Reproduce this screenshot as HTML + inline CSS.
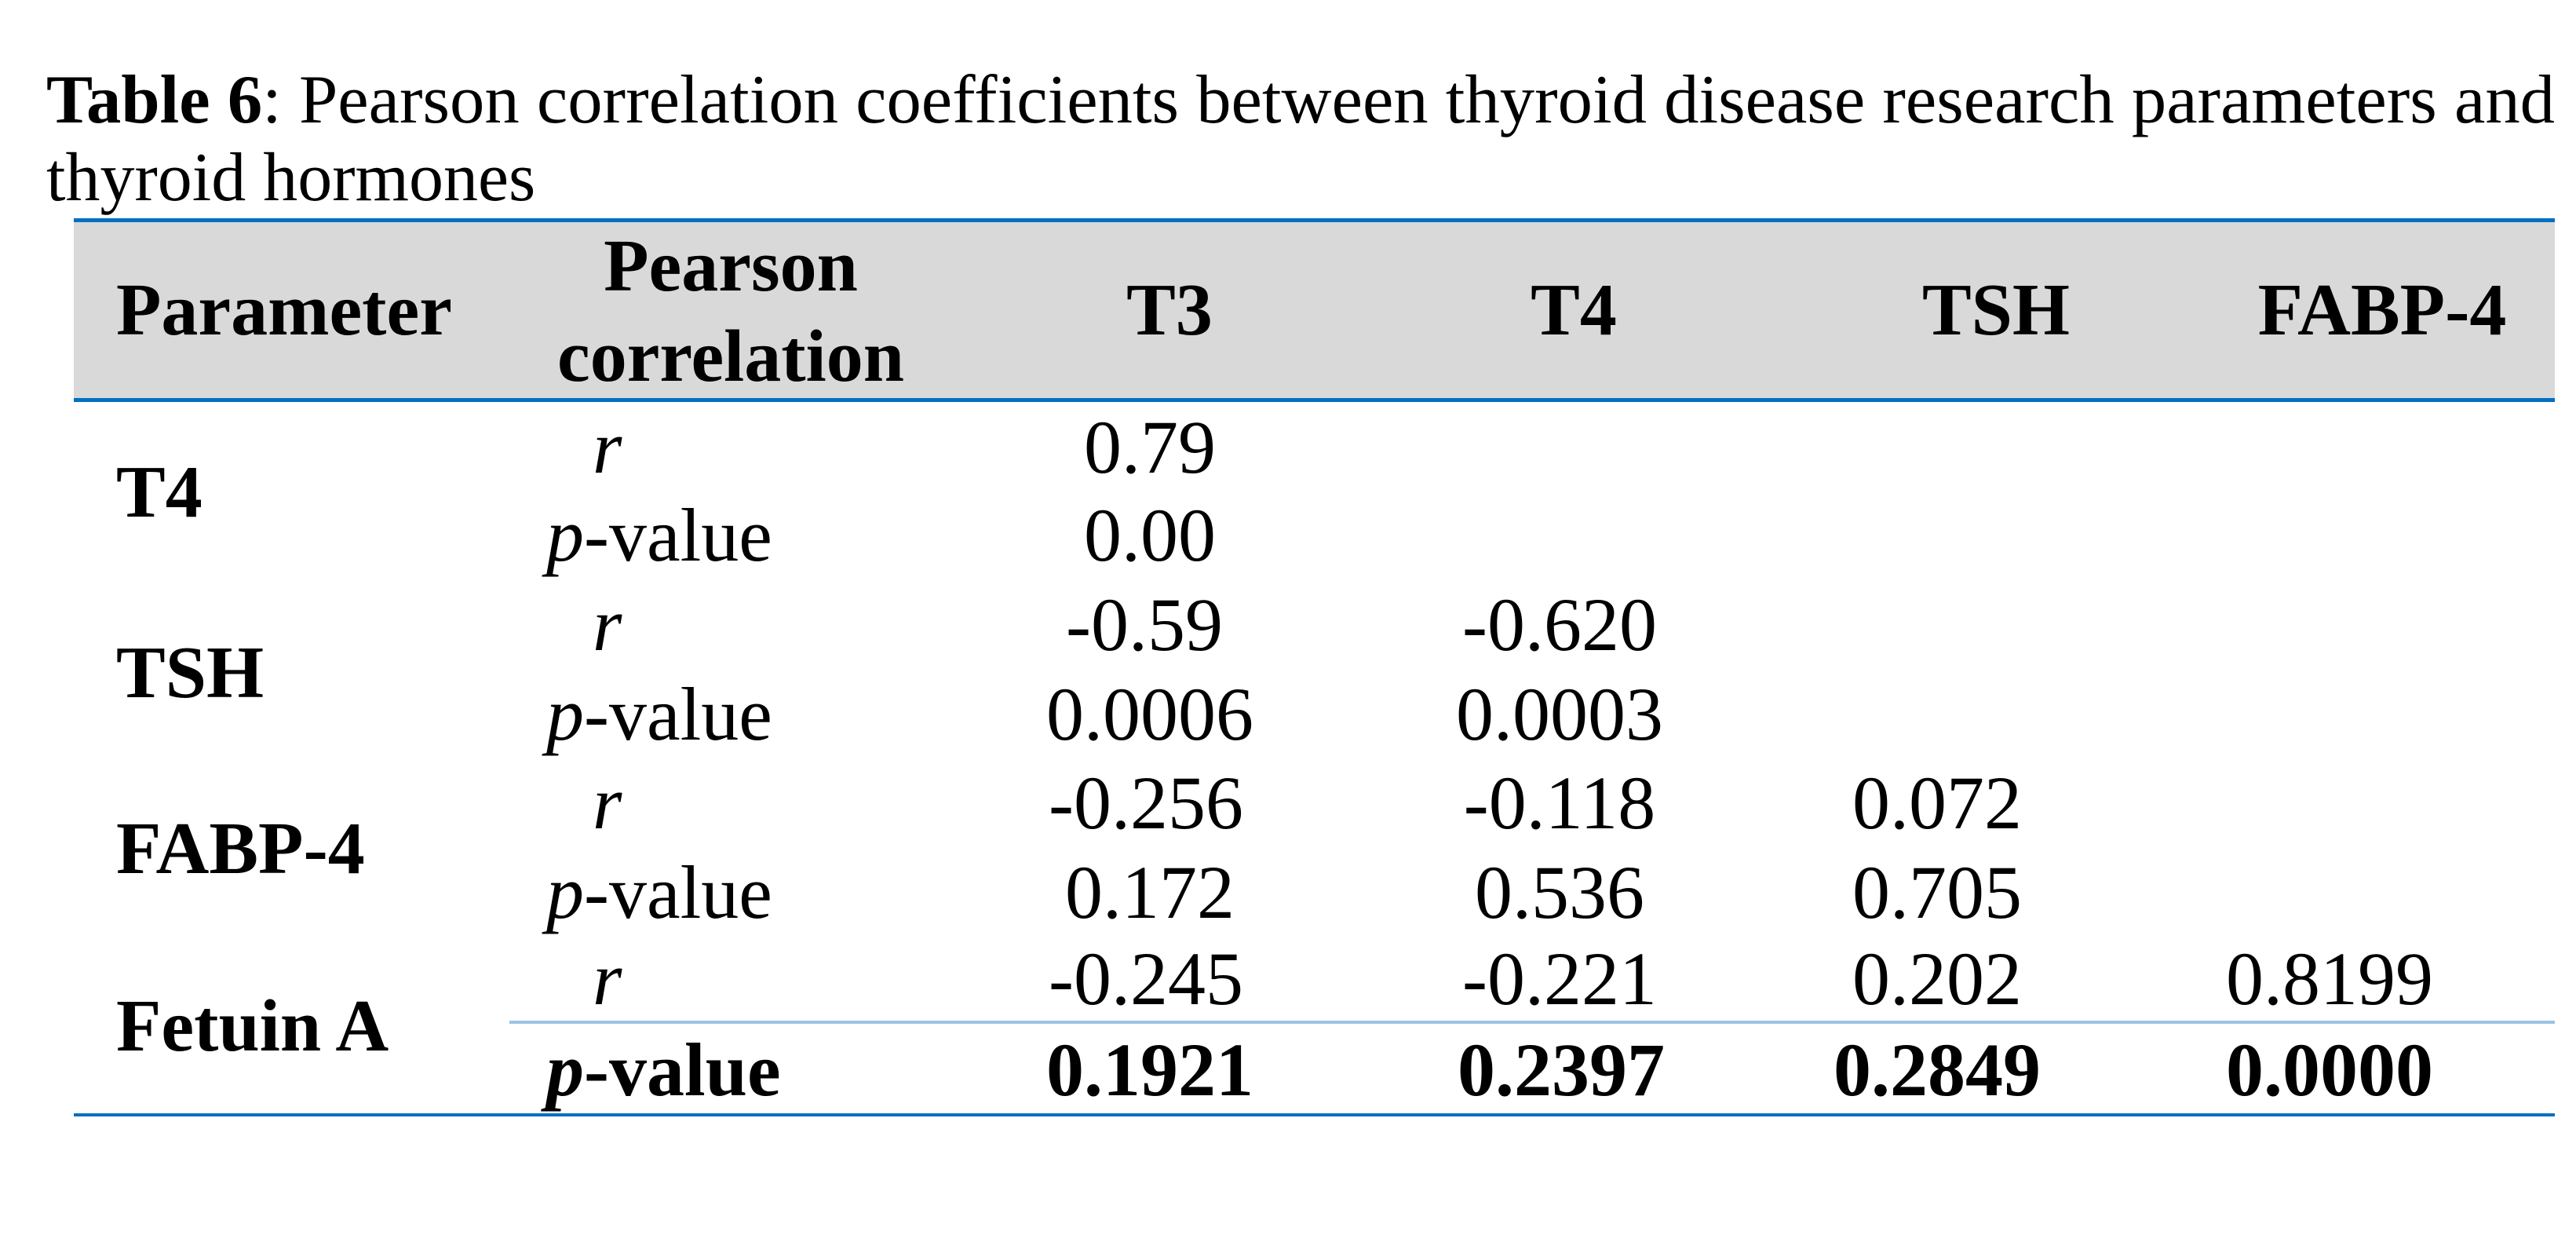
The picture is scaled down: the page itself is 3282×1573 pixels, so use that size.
<!DOCTYPE html>
<html><head><meta charset="utf-8"><style>
html,body{margin:0;padding:0;background:#fff;}
svg{display:block;font-family:"Liberation Serif",serif;}
</style></head><body>
<svg width="3282" height="1573" viewBox="0 0 3282 1573" xmlns="http://www.w3.org/2000/svg">
<rect width="3282" height="1573" fill="#fff"/>
<text x="59" y="156" font-size="88" textLength="3196" lengthAdjust="spacingAndGlyphs"><tspan font-weight="bold">Table 6</tspan>: Pearson correlation coefficients between thyroid disease research parameters and</text>
<text x="59" y="255" font-size="88">thyroid hormones</text>
<rect x="94" y="282" width="3161" height="227" fill="#d9d9d9"/>
<rect x="94" y="278" width="3161" height="5" fill="#0070c0"/>
<rect x="94" y="507" width="3161" height="5" fill="#0070c0"/>
<rect x="649" y="1300" width="2606" height="4" fill="#9dc3e6"/>
<rect x="94" y="1418" width="3161" height="4" fill="#0070c0"/>
<g font-size="94" font-weight="bold">
<text x="148" y="426">Parameter</text>
<text x="931" y="370" text-anchor="middle">Pearson</text>
<text x="931" y="485" text-anchor="middle">correlation</text>
<text x="1490" y="426" text-anchor="middle">T3</text>
<text x="2005" y="426" text-anchor="middle">T4</text>
<text x="2543" y="426" text-anchor="middle">TSH</text>
<text x="3035" y="426" text-anchor="middle">FABP-4</text>
<text x="148" y="658">T4</text>
<text x="148" y="888">TSH</text>
<text x="148" y="1112">FABP-4</text>
<text x="148" y="1338">Fetuin A</text>
</g>
<g font-size="96">
<text x="755" y="602" font-style="italic">r</text>
<text x="696" y="714"><tspan font-style="italic">p</tspan>-value</text>
<text x="755" y="828" font-style="italic">r</text>
<text x="696" y="942"><tspan font-style="italic">p</tspan>-value</text>
<text x="755" y="1055" font-style="italic">r</text>
<text x="696" y="1169"><tspan font-style="italic">p</tspan>-value</text>
<text x="755" y="1279" font-style="italic">r</text>
<text x="696" y="1395" font-weight="bold"><tspan font-style="italic">p</tspan>-value</text>
</g>
<g font-size="96" text-anchor="middle">
<text x="1465" y="602">0.79</text>
<text x="1465" y="714">0.00</text>
<text x="1458" y="828">-0.59</text>
<text x="1465" y="942">0.0006</text>
<text x="1460" y="1055">-0.256</text>
<text x="1465" y="1169">0.172</text>
<text x="1460" y="1279">-0.245</text>
<text x="1987" y="828">-0.620</text>
<text x="1987" y="942">0.0003</text>
<text x="1987" y="1055">-0.118</text>
<text x="1987" y="1169">0.536</text>
<text x="1987" y="1279">-0.221</text>
<text x="2468" y="1055">0.072</text>
<text x="2468" y="1169">0.705</text>
<text x="2468" y="1279">0.202</text>
<text x="2968" y="1279">0.8199</text>
</g>
<g font-size="96" text-anchor="middle" font-weight="bold">
<text x="1465" y="1395">0.1921</text>
<text x="1989" y="1395">0.2397</text>
<text x="2468" y="1395">0.2849</text>
<text x="2968" y="1395">0.0000</text>
</g>
</svg>
</body></html>
